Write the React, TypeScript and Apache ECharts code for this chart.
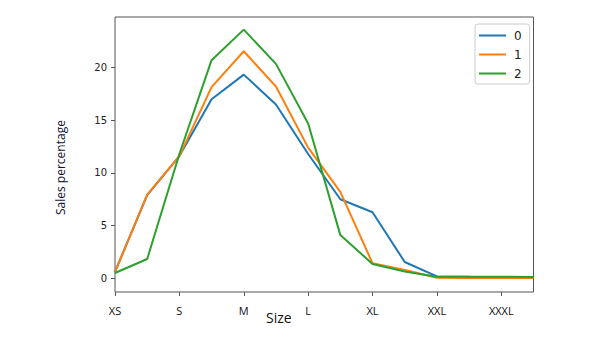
import React, { useEffect, useRef } from "react";
import * as echarts from "echarts";

const sizeLabels = ["XS", "S", "M", "L", "XL", "XXL", "XXXL"];
const sizeTickPositions = [0, 2, 4, 6, 8, 10, 12];
const pointIndex = [0, 1, 2, 3, 4, 5, 6, 7, 8, 9, 10, 11, 12, 13];
const seriesNames = ["0", "1", "2"];
const series0 = [0.6, 7.9, 11.6, 17.0, 19.33, 16.5, 11.8, 7.5, 6.27, 1.55, 0.18, 0.14, 0.12, 0.1];
const series1 = [0.6, 7.95, 11.6, 18.15, 21.55, 18.2, 12.4, 8.2, 1.42, 0.8, 0.05, 0.03, 0.02, 0.02];
const series2 = [0.5, 1.83, 11.8, 20.7, 23.6, 20.35, 14.7, 4.1, 1.36, 0.65, 0.15, 0.15, 0.14, 0.13];
const yTicks = [0, 5, 10, 15, 20];
const colors = ["#1f77b4", "#ff7f0e", "#2ca02c"];

export default function App() {
  const ref = useRef<HTMLDivElement>(null);
  useEffect(() => {
    document.body.style.margin = "0";
    if (!ref.current) return;
    const chart = echarts.init(ref.current, null, { renderer: "svg" });
    const all = [series0, series1, series2];
    chart.setOption({
      animation: false,
      backgroundColor: "#ffffff",
      color: colors,
      grid: {
        left: 115,
        right: 58.5,
        top: 17,
        bottom: 52,
        show: true,
        borderColor: "#555",
        borderWidth: 1,
        backgroundColor: "transparent",
      },
      legend: {
        orient: "vertical",
        left: 475,
        top: 24,
        padding: [4, 8, 3, 4],
        itemGap: 4,
        itemWidth: 27,
        itemHeight: 2,
        icon: "rect",
        borderColor: "#cccccc",
        borderWidth: 1,
        borderRadius: 3,
        textStyle: {
          fontFamily: "DejaVu Sans",
          fontSize: 12,
          color: "#222",
          lineHeight: 15,
          padding: [0, 0, 0, 3],
        },
        data: seriesNames,
      },
      xAxis: {
        type: "value",
        min: 0,
        max: 13,
        axisLine: { show: false, onZero: false },
        splitLine: { show: false },
        axisTick: {
          show: true,
          length: 4,
          lineStyle: { color: "#555" },
          customValues: sizeTickPositions,
        },
        axisLabel: {
          customValues: sizeTickPositions,
          formatter: (v: number) => {
            const i = sizeTickPositions.indexOf(Math.round(v));
            return i >= 0 ? sizeLabels[i] : "";
          },
          margin: 13,
          fontFamily: "Open Sans",
          fontSize: 11,
          color: "#111",
        },
      },
      yAxis: {
        type: "value",
        min: -1.3,
        max: 24.8,
        axisLine: { show: false, onZero: false },
        splitLine: { show: false },
        axisTick: {
          show: true,
          length: 4,
          lineStyle: { color: "#555" },
          customValues: yTicks,
        },
        axisLabel: {
          customValues: yTicks,
          margin: 8,
          fontFamily: "DejaVu Sans",
          fontSize: 10,
          color: "#222",
        },
      },
      series: all.map((vals, si) => ({
        name: seriesNames[si],
        type: "line",
        data: pointIndex.map((x, i) => [x, vals[i]]),
        showSymbol: false,
        symbol: "none",
        lineStyle: { width: 2, color: colors[si] },
        itemStyle: { color: colors[si] },
      })),
      graphic: [
        {
          type: "text",
          left: 266,
          top: 310,
          style: {
            text: "Size",
            font: "14px 'Open Sans'",
            fill: "#111",
          },
        },
        {
          type: "text",
          x: 54,
          y: 215,
          rotation: Math.PI / 2,
          style: {
            text: "Sales percentage",
            font: "12px 'Open Sans'",
            fill: "#111133",
            textAlign: "left",
            textVerticalAlign: "top",
          },
        },
      ],
    });
    return () => chart.dispose();
  }, []);
  return <div ref={ref} style={{ width: 592, height: 344 }} />;
}
